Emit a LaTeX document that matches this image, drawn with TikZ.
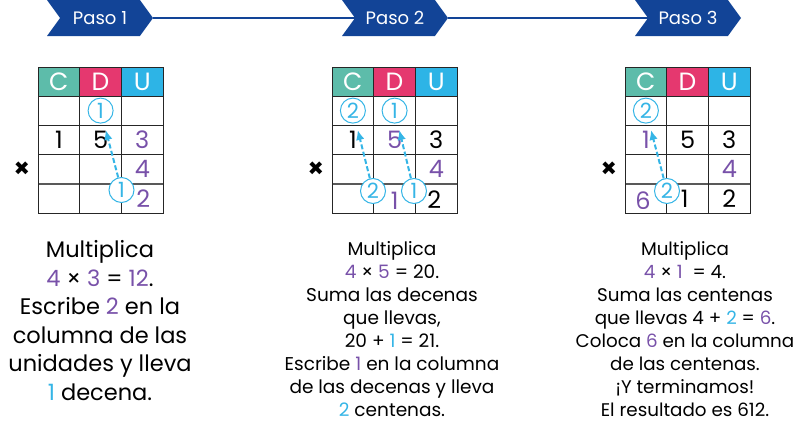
\documentclass[tikz,border=0pt]{standalone}
\usepackage{fontspec}
\setmainfont{Poppins}
\usetikzlibrary{arrows.meta,positioning,shapes.symbols,calc}

\definecolor{pasoblue}{HTML}{124497}
\definecolor{colteal}{HTML}{5DBCAA}
\definecolor{colpink}{HTML}{E5386F}
\definecolor{colcyan}{HTML}{2DB4E6}
\definecolor{numpurple}{HTML}{7851A9}
\definecolor{carrycyan}{HTML}{35B5E6}

\newcommand{\pu}[1]{{\color{numpurple}#1}}
\newcommand{\cy}[1]{{\color{carrycyan}#1}}

\tikzset{
  paso/.style={signal, signal from=west, signal to=east, signal pointer angle=108,
    fill=pasoblue, text=white, minimum width=106pt, minimum height=36pt, inner sep=0pt,
    font=\fontsize{18}{18}\selectfont},
  hdr/.style={text=white, font=\fontsize{25}{25}\selectfont},
  dig/.style={font=\fontsize{24}{24}\selectfont},
  carry/.style={circle, draw=carrycyan, line width=1pt, fill=white, minimum size=25pt,
    inner sep=0pt, text=carrycyan, font=\fontsize{21}{21}\selectfont},
  carryarrow/.style={draw=carrycyan, line width=2pt, dash pattern=on 5pt off 2.5pt,
    -{Latex[length=3.5mm, width=3mm]}, shorten >=7pt},
  explain/.style={align=center, anchor=north}
}

\begin{document}
\begin{tikzpicture}[x=1pt, y=-1pt]
  \useasboundingbox (0,0) rectangle (800,426);

  % steps across the top
  \node[paso] (p1) at (100,18) {Paso 1};
  \node[paso] (p2) at (395,18) {Paso 2};
  \node[paso] (p3) at (688,18) {Paso 3};
  \draw[pasoblue, line width=2pt] (p1.east) -- (p2.west);
  \draw[pasoblue, line width=2pt] (p2.east) -- (p3.west);

  % the three tables
  \foreach \tx/\tn in {38/1, 332/2, 625/3} {
    \fill[colteal] (\tx,67) rectangle ++(41.7,29);
    \fill[colpink] (\tx+41.7,67) rectangle ++(41.7,29);
    \fill[colcyan] (\tx+83.4,67) rectangle ++(41.6,29);
    \node[hdr] at (\tx+20.8,81.5) {C};
    \node[hdr] at (\tx+62.5,81.5) {D};
    \node[hdr] at (\tx+104.2,81.5) {U};
    \foreach \r in {1,...,4}
      \foreach \c in {1,2,3}
        \coordinate (t\tn-\r-\c) at (\tx+41.7*\c-20.8, 96+29.2*\r-14.6);
    \draw[gray!70!black, line width=1.4pt] (\tx,184) -- ++(125,0);
    \draw[black!85, line width=0.9pt] (\tx,67) rectangle ++(125,146)
      (\tx,96) -- ++(125,0) (\tx,125.2) -- ++(125,0) (\tx,154.4) -- ++(125,0)
      (\tx+41.7,67) -- ++(0,146) (\tx+83.4,67) -- ++(0,146);
    \node[font=\bfseries\fontsize{26}{26}\selectfont] at (\tx-16,170) {×};
  }

  % Paso 1
  \node[dig] at (t1-2-1) {1};
  \node[dig] at (t1-2-2) {5};
  \node[dig] at (t1-2-3) {\pu{3}};
  \node[dig] at (t1-3-3) {\pu{4}};
  \node[dig] at ($(t1-4-3)+(1,0)$) {\pu{2}};
  \node[carry] (c1a) at (t1-1-2) {1};
  \node[carry] (c1b) at (121.5,190) {1};
  \draw[carryarrow] (c1b) -- (c1a);

  % Paso 2
  \node[dig] at (t2-2-1) {1};
  \node[dig] at (t2-2-2) {\pu{5}};
  \node[dig] at (t2-2-3) {3};
  \node[dig] at (t2-3-3) {\pu{4}};
  \node[dig] at ($(t2-4-2)+(0,3)$) {\pu{1}};
  \node[dig] at ($(t2-4-3)+(-2,1)$) {2};
  \node[carry] (c2a) at (t2-1-1) {2};
  \node[carry] (c2b) at (t2-1-2) {1};
  \node[carry] (c2c) at (373,191) {2};
  \node[carry] (c2d) at (414,191) {1};
  \draw[carryarrow] (c2c) -- (c2a);
  \draw[carryarrow] (c2d) -- (c2b);

  % Paso 3
  \node[dig] at (t3-2-1) {\pu{1}};
  \node[dig] at (t3-2-2) {5};
  \node[dig] at (t3-2-3) {3};
  \node[dig] at (t3-3-3) {\pu{4}};
  \node[dig] at ($(t3-4-1)+(-3,2)$) {\pu{6}};
  \node[dig] at ($(t3-4-2)+(-3,1)$) {1};
  \node[dig] at (t3-4-3) {2};
  \node[carry] (c3a) at (t3-1-1) {2};
  \node[carry] (c3b) at (667,191) {2};
  \draw[carryarrow] (c3b) -- (c3a);

  % explanations
  \node[explain, font=\fontsize{22.5}{28.5}\selectfont] (e1) at (100,237)
    {Multiplica\\ \pu{4} × \pu{3} = \pu{12}.\\ Escribe \pu{2} en la\\ columna de las\\
     unidades y lleva\\ \cy{1} decena.};
  \node[explain, font=\fontsize{18.5}{23}\selectfont] (e2) at (392,238)
    {Multiplica\\ \pu{4} × \pu{5} = 20.\\ Suma las decenas\\ que llevas,\\ 20 + \cy{1} = 21.\\
     Escribe \pu{1} en la columna\\ de las decenas y lleva\\ \cy{2} centenas.};
  \node[explain, font=\fontsize{18.3}{23}\selectfont] (e3) at (685,238)
    {Multiplica\\ \pu{4} × \pu{1} \ = 4.\\ Suma las centenas\\ que llevas 4 + \cy{2} = \pu{6}.\\
     Coloca \pu{6} en la columna\\ de las centenas.\\ ¡Y terminamos!\\ El resultado es 612.};
\end{tikzpicture}
\end{document}
